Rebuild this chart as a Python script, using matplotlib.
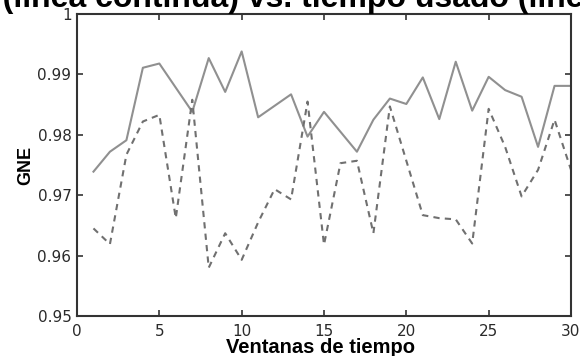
import matplotlib
matplotlib.use("Agg")
import matplotlib.pyplot as plt

# ── data ──────────────────────────────────────────────────────────────────────
windows = list(range(1, 31))
gne_solid = [0.9739, 0.9772, 0.9791, 0.9911, 0.9918, 0.9878, 0.9838, 0.9927,
             0.9871, 0.9938, 0.9829, 0.9848, 0.9867, 0.9797, 0.9838, 0.9805,
             0.9772, 0.9825, 0.9860, 0.9851, 0.9895, 0.9826, 0.9921, 0.9840,
             0.9896, 0.9874, 0.9863, 0.9780, 0.9881, 0.9881]
gne_dashed = [0.9645, 0.9619, 0.9767, 0.9822, 0.9833, 0.9662, 0.9858, 0.9580,
              0.9637, 0.9593, 0.9655, 0.9710, 0.9693, 0.9855, 0.9618, 0.9753,
              0.9757, 0.9637, 0.9847, 0.9757, 0.9667, 0.9662, 0.9660, 0.9620,
              0.9843, 0.9780, 0.9698, 0.9742, 0.9825, 0.9742]

x_ticks = [0, 5, 10, 15, 20, 25, 30]
y_ticks = [0.95, 0.96, 0.97, 0.98, 0.99, 1.0]
y_ticklabels = ["0.95", "0.96", "0.97", "0.98", "0.99", "1"]

title = "a (línea continua) vs. tiempo usado (línea punteada)"

plt.rcParams["font.family"] = ["Liberation Sans", "DejaVu Sans"]

W, H = 580, 356
fig = plt.figure(figsize=(W / 100, H / 100), dpi=100)
ax = fig.add_axes([77 / W, 1 - 316 / H, (571 - 77) / W, (316 - 14) / H])

ax.plot(windows, gne_solid, color="#909090", lw=1.5)
ax.plot(windows, gne_dashed, color="#707070", lw=1.5, ls=(0, (3, 2.5)))

ax.set_xlim(0, 30)
ax.set_ylim(0.95, 1.0)
ax.set_xticks(x_ticks)
ax.set_yticks(y_ticks)
ax.set_yticklabels(y_ticklabels)
ax.tick_params(direction="in", length=4, width=1.2, top=True, right=True,
               colors="#333333")
ax.tick_params(axis="y", pad=4)
ax.tick_params(axis="x", pad=6)
for lbl in ax.get_xticklabels() + ax.get_yticklabels():
    lbl.set_fontfamily("DejaVu Sans")
    lbl.set_fontsize(11)
    lbl.set_color("#2a2a2a")
for s in ax.spines.values():
    s.set_linewidth(1.5)
    s.set_color("#333333")

# axis labels placed by hand, like the reference
ax.set_xlabel("Ventanas de tiempo", fontsize=14.5, fontweight="bold")
ax.xaxis.set_label_coords(0.492, -0.124)
ax.xaxis.label.set_va("baseline")
ax.set_ylabel("GNE", fontsize=13, fontweight="bold")
ax.yaxis.set_label_coords(-0.103, 0.5)
ax.yaxis.label.set_va("center")

# title is cut off by the top edge in the reference
fig.text(-24 / W, 1 - 7 / H, title, ha="left", va="baseline", fontsize=23,
         fontweight="bold", color="black")

fig.savefig("out.png", dpi=100, facecolor="white")
